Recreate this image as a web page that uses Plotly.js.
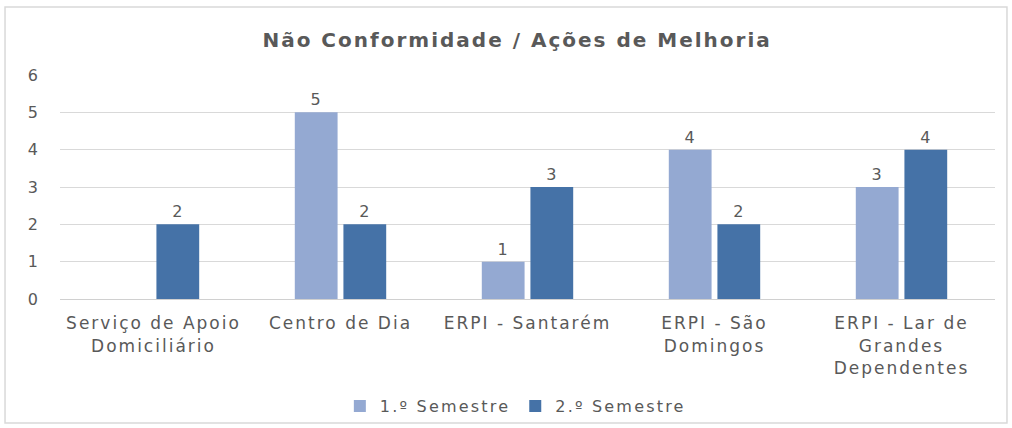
<!DOCTYPE html>
<html>
<head>
<meta charset="utf-8">
<script src="https://cdn.plot.ly/plotly-3.0.1.min.js"></script>
<style>
html,body{margin:0;padding:0;background:#fff;overflow:hidden;}
#chart{width:1012px;height:428px;}
.gtitle{letter-spacing:2px;}
.legendtext{letter-spacing:2.2px;}
.xtick text{letter-spacing:2px;}
.ytick text{letter-spacing:1px;}
.bartext{letter-spacing:1px;}
</style>
</head>
<body>
<div id="chart"></div>
<script>
const categories = [
  "Serviço de Apoio<br>Domiciliário",
  "Centro de Dia",
  "ERPI - Santarém",
  "ERPI - São<br>Domingos",
  "ERPI - Lar de<br>Grandes<br>Dependentes"
];
const semestre1 = [null, 5, 1, 4, 3];
const semestre2 = [2, 2, 3, 2, 4];
const seriesNames = ["1.º Semestre", "2.º Semestre"];
const yTicks = [0, 1, 2, 3, 4, 5, 6];

const font = "DejaVu Sans, sans-serif";
const grey = "#595959";

const traces = [
  {type: "bar", name: seriesNames[0], x: categories, y: semestre1,
   marker: {color: "#94a9d2"}, text: semestre1.map(v => v == null ? "" : String(v)),
   textposition: "outside", textfont: {family: font, size: 16, color: grey}, cliponaxis: false, hoverinfo: "skip"},
  {type: "bar", name: seriesNames[1], x: categories, y: semestre2,
   marker: {color: "#4572a7"}, text: semestre2.map(v => v == null ? "" : String(v)),
   textposition: "outside", textfont: {family: font, size: 16, color: grey}, cliponaxis: false, hoverinfo: "skip"}
];

const layout = {
  width: 1012, height: 428,
  margin: {l: 60, r: 17, t: 75, b: 129, autoexpand: false},
  paper_bgcolor: "#fff", plot_bgcolor: "#fff",
  font: {family: font, color: grey, size: 15},
  title: {text: "<b>Não Conformidade / Ações de Melhoria</b>", x: 0.511, xanchor: "center",
          y: 1 - 40/428, yanchor: "middle", font: {family: font, size: 20, color: grey}},
  barmode: "group", bargap: 0.48, bargroupgap: 0.12,
  xaxis: {type: "category", showgrid: false, showline: true, linecolor: "#d0d0d0", linewidth: 1,
          ticks: "", tickangle: 0, automargin: false, ticklabelstandoff: 9,
          tickfont: {family: font, size: 17, color: grey}, fixedrange: true},
  yaxis: {range: [0, 6], tickvals: yTicks, showgrid: true, gridcolor: "#d9d9d9", zeroline: false,
          showline: false, ticks: "", automargin: false, tickfont: {family: font, size: 16, color: grey},
          ticklabelstandoff: 20, fixedrange: true},
  legend: {orientation: "h", xref: "paper", x: 0.487, xanchor: "center",
           yref: "container", y: 1 - 406/428, yanchor: "middle", bgcolor: "rgba(0,0,0,0)",
           font: {family: font, size: 16, color: grey}},
  shapes: [{type: "rect", xref: "paper", yref: "paper", x0: -0.0588, x1: 1.0128, y0: -0.5536, y1: 1.3036,
            line: {color: "#d9d9d9", width: 1.5}, fillcolor: "rgba(0,0,0,0)", layer: "below"}],
  showlegend: true
};

Plotly.newPlot("chart", traces, layout, {displayModeBar: false, staticPlot: true});
</script>
</body>
</html>
